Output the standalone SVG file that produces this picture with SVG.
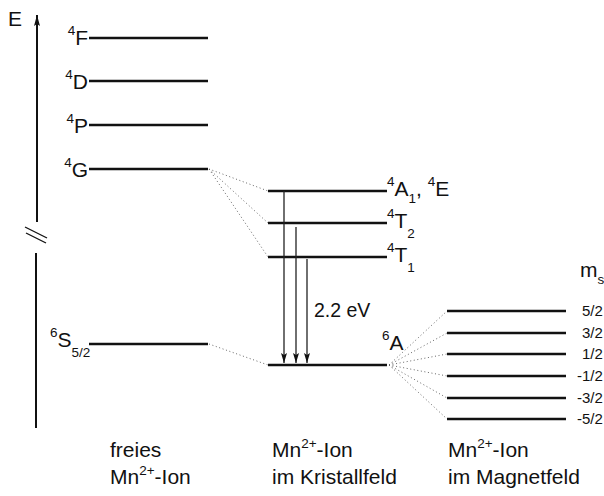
<svg xmlns="http://www.w3.org/2000/svg" width="604" height="496" viewBox="0 0 604 496">
<defs>
<style>
text{font-family:"Liberation Sans",Arial,sans-serif;fill:#111}
.lv{stroke:#111;stroke-width:2.4;fill:none}
.dot{stroke:#666;stroke-width:1;stroke-dasharray:1 2.6;fill:none}
.ax{stroke:#111;stroke-width:2;fill:none}
.tr{stroke:#222;stroke-width:1.3;fill:none}
.big{font-size:21px}
.sm{font-size:13.5px}
.ms{font-size:15px}
</style>
<marker id="ah" viewBox="0 0 10 6" refX="10" refY="3" markerWidth="10" markerHeight="6" markerUnits="userSpaceOnUse" orient="auto">
<path d="M0,0 L10,3 L0,6 L2,3 Z" fill="#111"/>
</marker>
<marker id="ahup" viewBox="0 0 11 6" refX="11" refY="3" markerWidth="11" markerHeight="6" markerUnits="userSpaceOnUse" orient="auto">
<path d="M0,0 L11,3 L0,6 L2,3 Z" fill="#111"/>
</marker>
</defs>

<g id="axis">
<line class="ax" x1="37" y1="222" x2="37" y2="15" marker-end="url(#ahup)"/>
<line class="ax" x1="36" y1="253" x2="36" y2="428"/>
<line stroke="#111" stroke-width="1.3" x1="25" y1="227" x2="47" y2="238"/>
<line stroke="#111" stroke-width="1.3" x1="26" y1="233" x2="46" y2="243"/>
<text class="big" x="8" y="26">E</text>
</g>

<g id="free-4F">
<line class="lv" x1="89" y1="38" x2="208" y2="38"/>
<text class="big" x="88" y="45" text-anchor="end"><tspan class="sm" dy="-10">4</tspan><tspan dy="10">F</tspan></text>
</g>
<g id="free-4D">
<line class="lv" x1="89" y1="81" x2="208" y2="81"/>
<text class="big" x="88" y="88.5" text-anchor="end"><tspan class="sm" dy="-10">4</tspan><tspan dy="10">D</tspan></text>
</g>
<g id="free-4P">
<line class="lv" x1="89" y1="125" x2="208" y2="125"/>
<text class="big" x="88" y="132.5" text-anchor="end"><tspan class="sm" dy="-10">4</tspan><tspan dy="10">P</tspan></text>
</g>
<g id="free-4G">
<line class="lv" x1="89" y1="169" x2="208" y2="169"/>
<text class="big" x="88" y="176.5" text-anchor="end"><tspan class="sm" dy="-10">4</tspan><tspan dy="10">G</tspan></text>
</g>
<g id="free-6S">
<line class="lv" x1="89" y1="344" x2="208" y2="344"/>
<text class="big" x="50" y="347"><tspan class="sm" dy="-10">6</tspan><tspan dy="10">S</tspan><tspan class="sm" dy="10">5/2</tspan></text>
</g>

<g id="cf-4A1-4E">
<line class="lv" x1="268" y1="191" x2="387" y2="191"/>
<text class="big" x="387" y="196"><tspan class="sm" dy="-10">4</tspan><tspan dy="10">A</tspan><tspan class="sm" dy="7">1</tspan><tspan dy="-7">, </tspan><tspan class="sm" dy="-10">4</tspan><tspan dy="10">E</tspan></text>
</g>
<g id="cf-4T2">
<line class="lv" x1="268" y1="223" x2="387" y2="223"/>
<text class="big" x="387" y="228"><tspan class="sm" dy="-10">4</tspan><tspan dy="10">T</tspan><tspan class="sm" dy="10">2</tspan></text>
</g>
<g id="cf-4T1">
<line class="lv" x1="268" y1="257" x2="387" y2="257"/>
<text class="big" x="387" y="262"><tspan class="sm" dy="-10">4</tspan><tspan dy="10">T</tspan><tspan class="sm" dy="10">1</tspan></text>
</g>
<g id="cf-6A">
<line class="lv" x1="268" y1="365" x2="387" y2="365"/>
<text class="big" x="382" y="350"><tspan class="sm" dy="-10">6</tspan><tspan dy="10">A</tspan></text>
</g>

<g id="mf-5-2"><line class="lv" x1="447" y1="311" x2="566" y2="311"/><text class="ms" x="582" y="316">5/2</text></g>
<g id="mf-3-2"><line class="lv" x1="447" y1="333" x2="566" y2="333"/><text class="ms" x="582" y="338">3/2</text></g>
<g id="mf-1-2"><line class="lv" x1="447" y1="354" x2="566" y2="354"/><text class="ms" x="582" y="359">1/2</text></g>
<g id="mf-m1-2"><line class="lv" x1="447" y1="376" x2="566" y2="376"/><text class="ms" x="577" y="381">-1/2</text></g>
<g id="mf-m3-2"><line class="lv" x1="447" y1="398" x2="566" y2="398"/><text class="ms" x="577" y="403">-3/2</text></g>
<g id="mf-m5-2"><line class="lv" x1="447" y1="419" x2="566" y2="419"/><text class="ms" x="577" y="424">-5/2</text></g>
<g id="ms-header"><text class="big" x="580" y="277">m<tspan class="sm" dy="7">s</tspan></text></g>

<g id="transition-label"><text style="font-size:19.5px" x="314" y="317">2.2 eV</text></g>

<g id="captions">
<text class="big" x="110" y="457">freies</text>
<text class="big" x="110" y="484">Mn<tspan class="sm" dy="-9">2+</tspan><tspan dy="9">-Ion</tspan></text>
<text class="big" x="272" y="457">Mn<tspan class="sm" dy="-9">2+</tspan><tspan dy="9">-Ion</tspan></text>
<text class="big" x="272" y="484">im Kristallfeld</text>
<text class="big" x="448" y="457">Mn<tspan class="sm" dy="-9">2+</tspan><tspan dy="9">-Ion</tspan></text>
<text class="big" x="448" y="484">im Magnetfeld</text>
</g>

<g id="connectors">
<line class="dot" x1="209" y1="169" x2="268" y2="191"/>
<line class="dot" x1="209" y1="169" x2="268" y2="223"/>
<line class="dot" x1="209" y1="169" x2="268" y2="257"/>
<line class="dot" x1="209" y1="344" x2="268" y2="365"/>
<line class="dot" x1="389" y1="365" x2="447" y2="311"/>
<line class="dot" x1="389" y1="365" x2="447" y2="333"/>
<line class="dot" x1="389" y1="365" x2="447" y2="354"/>
<line class="dot" x1="389" y1="365" x2="447" y2="376"/>
<line class="dot" x1="389" y1="365" x2="447" y2="398"/>
<line class="dot" x1="389" y1="365" x2="447" y2="419"/>
<line class="tr" x1="284" y1="191" x2="284" y2="363" marker-end="url(#ah)"/>
<line class="tr" x1="296" y1="227" x2="296" y2="363" marker-end="url(#ah)"/>
<line class="tr" x1="307" y1="259" x2="307" y2="363" marker-end="url(#ah)"/>
</g>
</svg>
